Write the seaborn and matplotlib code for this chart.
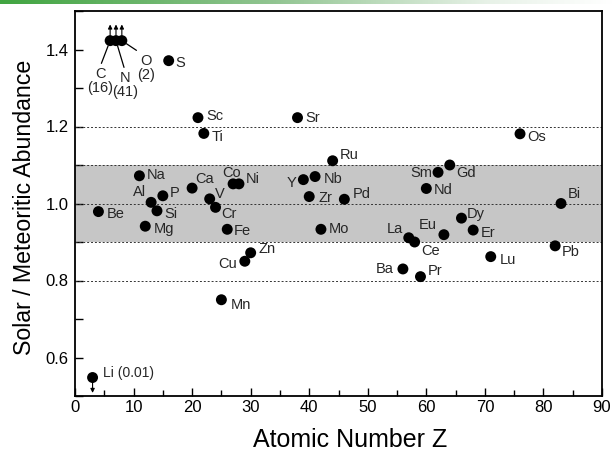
import matplotlib
matplotlib.use("Agg")
import numpy as np
import pandas as pd
import seaborn as sns
import matplotlib.pyplot as plt
from matplotlib.colors import LinearSegmentedColormap
from matplotlib.ticker import MultipleLocator, FormatStrFormatter

# ---------------- data ----------------
elements = ['Li', 'Be', 'C', 'N', 'O', 'Na', 'Mg', 'Al', 'Si', 'P', 'S', 'Ca', 'Sc', 'Ti',
            'V', 'Cr', 'Mn', 'Fe', 'Co', 'Ni', 'Cu', 'Zn', 'Sr', 'Y', 'Zr', 'Nb', 'Mo',
            'Ru', 'Pd', 'Ba', 'La', 'Ce', 'Pr', 'Nd', 'Sm', 'Eu', 'Gd', 'Dy', 'Er', 'Lu',
            'Os', 'Pb', 'Bi']
atomic_number = [3, 4, 6, 7, 8, 11, 12, 13, 14, 15, 16, 20, 21, 22,
                 23, 24, 25, 26, 27, 28, 29, 30, 38, 39, 40, 41, 42,
                 44, 46, 56, 57, 58, 59, 60, 62, 63, 64, 66, 68, 71,
                 76, 82, 83]
abundance_ratio = [0.548, 0.979, 1.423, 1.423, 1.423, 1.072, 0.941, 1.003, 0.981, 1.020,
                   1.371, 1.040, 1.223, 1.182, 1.012, 0.990, 0.750, 0.933, 1.051, 1.051,
                   0.850, 0.872, 1.223, 1.062, 1.018, 1.070, 0.933, 1.111, 1.011, 0.830,
                   0.911, 0.900, 0.810, 1.039, 1.081, 0.919, 1.100, 0.962, 0.931, 0.862,
                   1.181, 0.890, 1.000]
label_text = {'Li': 'Li (0.01)', 'C': 'C\n(16)', 'N': 'N\n(41)', 'O': 'O\n(2)'}
lower_limits = ['Li']          # drawn with a downward arrow
upper_limits = ['C', 'N', 'O']  # drawn with upward arrows
x_ticks = [0, 10, 20, 30, 40, 50, 60, 70, 80, 90]
y_ticks = [0.6, 0.8, 1.0, 1.2, 1.4]
band = (0.9, 1.1)
dotted_levels = [0.8, 0.9, 1.0, 1.1, 1.2]

df = pd.DataFrame({'element': elements, 'Z': atomic_number, 'ratio': abundance_ratio})

# label placement (offset pixels, horizontal alignment)
label_pos = {
    'Li': (10, 5, 'left'), 'Be': (8, -2, 'left'), 'Na': (7, 1, 'left'), 'Mg': (8, -3, 'left'),
    'Al': (-5, 10, 'right'), 'Si': (7, -3, 'left'), 'P': (7, 3, 'left'), 'S': (7, -2, 'left'),
    'Ca': (3, 9, 'left'), 'Sc': (8, 2, 'left'), 'Ti': (8, -4, 'left'), 'V': (5, 5, 'left'),
    'Cr': (6, -7, 'left'), 'Mn': (9, -5, 'left'), 'Fe': (7, -2, 'left'), 'Co': (-2, 11, 'center'),
    'Ni': (7, 5, 'left'), 'Cu': (-8, -3, 'right'), 'Zn': (8, 4, 'left'), 'Sr': (8, 0, 'left'),
    'Y': (-7, -3, 'right'), 'Zr': (9, -1, 'left'), 'Nb': (9, -2, 'left'), 'Mo': (8, 0, 'left'),
    'Ru': (7, 6, 'left'), 'Pd': (8, 5, 'left'), 'Ba': (-9, 0, 'right'), 'La': (-6, 9, 'right'),
    'Ce': (7, -9, 'left'), 'Pr': (7, 6, 'left'), 'Nd': (7, -2, 'left'), 'Sm': (-6, -1, 'right'),
    'Eu': (-7, 10, 'right'), 'Gd': (6, -8, 'left'), 'Dy': (5, 4, 'left'), 'Er': (8, -3, 'left'),
    'Lu': (9, -3, 'left'), 'Os': (7, -3, 'left'), 'Pb': (7, -6, 'left'), 'Bi': (7, 10, 'left'),
}
# C, N, O labels hang below the blob with leader lines (dx, dy of text top, relpos)
cno_pos = {'C': (-10, -26, (0.5, 1.0)), 'N': (9, -30, (0.5, 1.0)), 'O': (24, -13, (0.25, 1.0))}

# ---------------- style ----------------
sns.set_style('ticks')
plt.rcParams['font.family'] = ['Liberation Sans', 'DejaVu Sans']

W, H = 613, 454
fig = plt.figure(figsize=(W / 100, H / 100), dpi=100)
ax = fig.add_axes([75 / W, 1 - 396 / H, 527 / W, 385 / H])

# green gradient strip at top
gax = fig.add_axes([0, 1 - 4 / H, 1, 4 / H])
gcmap = LinearSegmentedColormap.from_list(
    'g', [(0, '#41a541'), (0.45, '#92c592'), (0.8, '#e8f2e8'), (1, '#ffffff')])
gax.imshow(np.linspace(0, 1, 256)[None, :], aspect='auto', cmap=gcmap)
gax.axis('off')

# band and dotted reference lines
ax.axhspan(*band, color='#c6c6c6', lw=0, zorder=0)
for yv in dotted_levels:
    ax.axhline(yv, color='#333333', lw=0.7, ls=(0, (2, 2)), zorder=1)

sns.scatterplot(data=df, x='Z', y='ratio', color='black', s=62, edgecolor='none',
                ax=ax, zorder=3, legend=False)

# labels
for el, z, r in zip(elements, atomic_number, abundance_ratio):
    txt = label_text.get(el, el)
    if el in cno_pos:
        dx, dy, rel = cno_pos[el]
        ax.annotate(txt, xy=(z, r), xytext=(dx, dy), textcoords='offset pixels',
                    ha='center', va='top', fontsize=10.5, linespacing=1.05,
                    arrowprops=dict(arrowstyle='-', color='black', lw=0.9,
                                    relpos=rel, shrinkA=0, shrinkB=4), zorder=4)
    else:
        dx, dy, ha = label_pos[el]
        ax.annotate(txt, xy=(z, r), xytext=(dx, dy), textcoords='offset pixels',
                    ha=ha, va='center', fontsize=10 if el == 'Li' else 10.5, zorder=4)

# limit arrows
for el, z, r in zip(elements, atomic_number, abundance_ratio):
    if el in upper_limits:
        ax.annotate('', xy=(z, r + 0.042), xytext=(z, r),
                    arrowprops=dict(arrowstyle='-|>', color='black', lw=0.8,
                                    mutation_scale=6, shrinkA=0, shrinkB=0), zorder=2)
    if el in lower_limits:
        ax.annotate('', xy=(z, r - 0.040), xytext=(z, r),
                    arrowprops=dict(arrowstyle='-|>', color='black', lw=0.8,
                                    mutation_scale=6, shrinkA=0, shrinkB=0), zorder=2)

# axes
ax.set_xlim(0, 90)
ax.set_ylim(0.5, 1.5)
ax.set_xticks(x_ticks)
ax.xaxis.set_minor_locator(MultipleLocator(5))
ax.set_yticks(y_ticks)
ax.yaxis.set_minor_locator(MultipleLocator(0.1))
ax.yaxis.set_major_formatter(FormatStrFormatter('%.1f'))
ax.tick_params(which='both', direction='in', top=False, right=False,
               labelsize=12, color='black', labelcolor='black', width=1.0)
ax.tick_params(axis='x', which='major', length=6, pad=3)
ax.tick_params(axis='x', which='minor', length=4.5)
ax.tick_params(axis='y', which='major', length=5.5, pad=4.5)
ax.tick_params(axis='y', which='minor', length=5.5)
for sp in ax.spines.values():
    sp.set_visible(True)
    sp.set_color('black')
    sp.set_linewidth(1.3)

ax.set_xlabel('Atomic Number Z', fontsize=18, color='black')
ax.xaxis.set_label_coords(0.522, -0.083)
ax.set_ylabel('Solar / Meteoritic Abundance', fontsize=16.7, color='black')
ax.yaxis.set_label_coords(-0.074, 0.49)
ax.grid(False)

fig.savefig('out.png', dpi=100)
